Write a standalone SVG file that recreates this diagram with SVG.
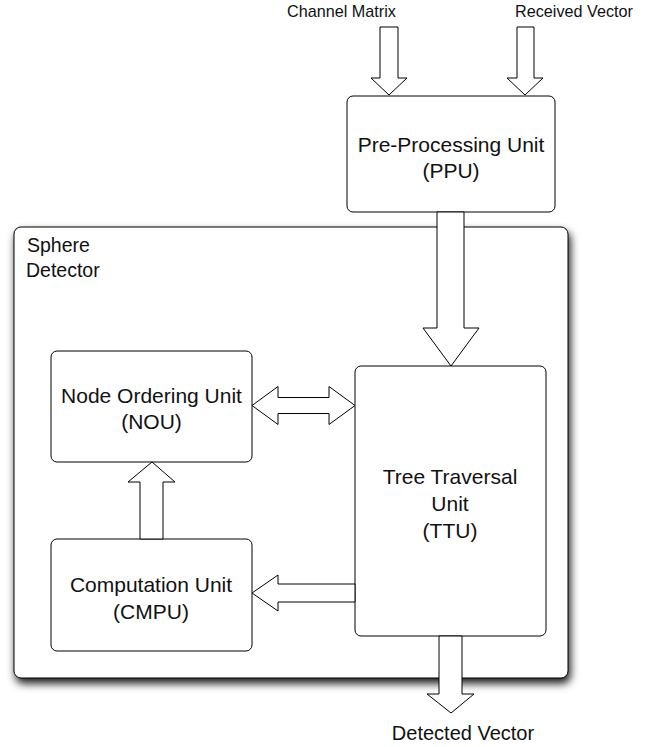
<svg xmlns="http://www.w3.org/2000/svg" width="652" height="747" viewBox="0 0 652 747">
<style>
.box{fill:#fff;stroke:#000;stroke-width:1}
.arr{fill:#fff;stroke:#000;stroke-width:1;stroke-linejoin:miter}
text{font-family:"Liberation Sans",Arial,Helvetica,sans-serif;fill:#111}
.lbl{font-size:21px;text-anchor:middle}
.io{font-size:16.2px}
</style>
<defs>
<filter id="shadow" x="-10%" y="-10%" width="120%" height="120%">
<feDropShadow dx="2" dy="5" stdDeviation="4" flood-color="#000" flood-opacity="0.9"/>
</filter>
</defs>
<rect width="652" height="747" fill="#fff"/>
<g id="sphere-detector">
<rect x="14" y="227" width="554" height="451" rx="7" class="box" filter="url(#shadow)"/>
<text x="27" y="252" font-size="19.5">Sphere</text>
<text x="26" y="277" font-size="19.5">Detector</text>
</g>
<g id="ppu">
<rect x="347" y="96" width="208" height="116" rx="6" class="box"/>
<text class="lbl" x="451" y="152">Pre-Processing Unit</text>
<text class="lbl" x="451" y="178">(PPU)</text>
</g>
<g id="nou">
<rect x="51" y="351" width="201" height="111" rx="6" class="box"/>
<text class="lbl" x="151.5" y="403">Node Ordering Unit</text>
<text class="lbl" x="151.5" y="429">(NOU)</text>
</g>
<g id="cmpu">
<rect x="51" y="539" width="201" height="112" rx="6" class="box"/>
<text class="lbl" x="151" y="592">Computation Unit</text>
<text class="lbl" x="151" y="619">(CMPU)</text>
</g>
<g id="ttu">
<rect x="355" y="366" width="191" height="270" rx="6" class="box"/>
<text class="lbl" x="450" y="484">Tree Traversal</text>
<text class="lbl" x="450" y="511">Unit</text>
<text class="lbl" x="450" y="538">(TTU)</text>
</g>
<g id="labels">
<text class="io" x="287" y="17">Channel Matrix</text>
<text class="io" x="515" y="17">Received Vector</text>
<text x="463" y="740" font-size="20" text-anchor="middle">Detected Vector</text>
</g>
<g id="connectors">
<polygon class="arr" points="380,27 398,27 398,78 407,78 389,95 371,78 380,78"/>
<polygon class="arr" points="517,27 534,27 534,78 543,78 525,95 507,78 517,78"/>
<polygon class="arr" points="437,212 464,212 464,328 479,328 451,366 423,328 437,328"/>
<polygon class="arr" points="252,405.5 278,386.5 278,397.5 329,397.5 329,386.5 355,405.5 329,424.5 329,413.5 278,413.5 278,424.5"/>
<polygon class="arr" points="152,462 175,482 163,482 163,539 140,539 140,482 128,482"/>
<polygon class="arr" points="252,593 278,575 278,584 355,584 355,602 278,602 278,611"/>
<polygon class="arr" points="439,636 462,636 462,694 474,694 451,713 427,694 439,694"/>
</g>
</svg>
